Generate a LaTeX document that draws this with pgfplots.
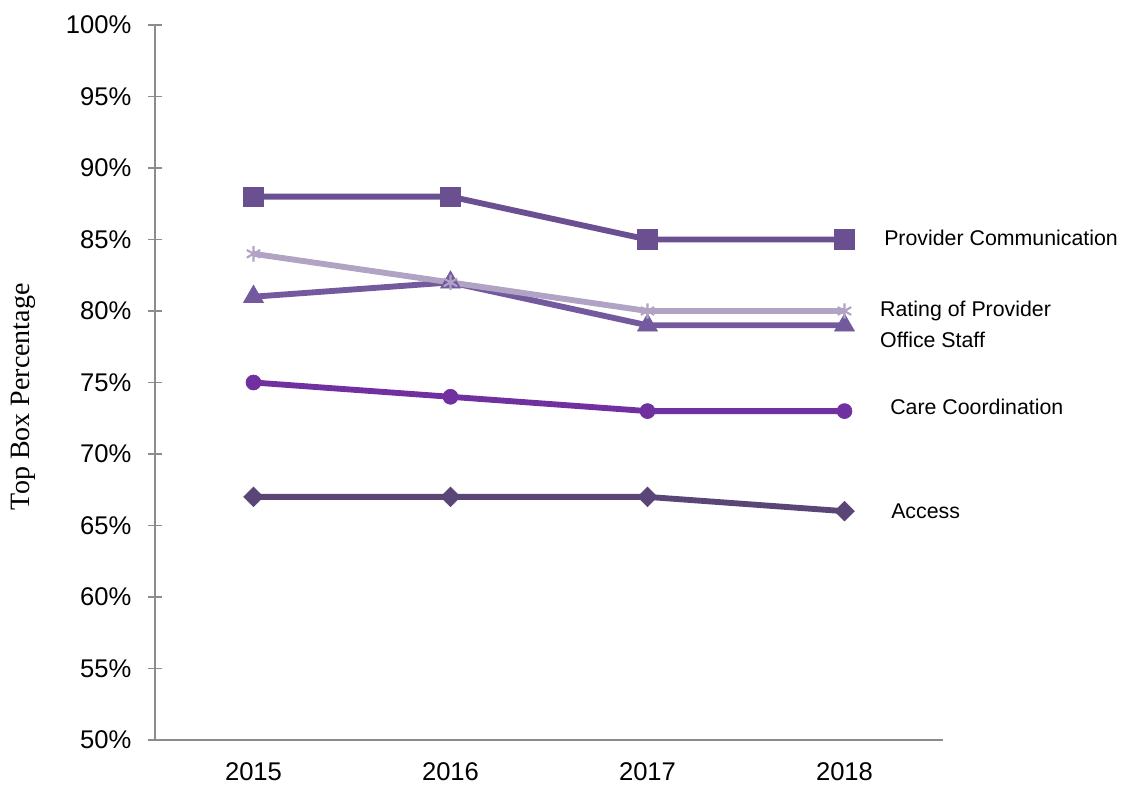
\documentclass[border=0pt]{standalone}
\usepackage{pgfplots}
\pgfplotsset{compat=1.18}
\usepackage{fontspec}
\setmainfont{Liberation Sans}
\newfontfamily\seriffont{Liberation Serif}
\definecolor{pcom}{HTML}{6A5090}
\definecolor{rate}{HTML}{B0A3C4}
\definecolor{staff}{HTML}{735A9E}
\definecolor{care}{HTML}{7030A0}
\definecolor{acc}{HTML}{5A4676}
\definecolor{axgray}{HTML}{8C8C8C}
\begin{document}
\begin{tikzpicture}
\path[use as bounding box] (-116.25pt,-34.5pt) rectangle (724.5pt,555pt);
\begin{axis}[
  at={(0pt,0pt)}, anchor=south west,
  scale only axis, width=591pt, height=536.25pt,
  xmin=-0.5, xmax=3.5, ymin=50, ymax=100,
  axis lines*=left,
  axis line style={axgray, line width=1.1pt, -},
  xtick={0,1,2,3}, xticklabels={2015,2016,2017,2018},
  xtick style={draw=none},
  ytick={50,55,...,100},
  yticklabels={50\%,55\%,60\%,65\%,70\%,75\%,80\%,85\%,90\%,95\%,100\%},
  ytick style={axgray, line width=1.1pt},
  tick align=center, major tick length=10.5pt,
  tick label style={font=\fontsize{19.2}{22}\selectfont, black},
  xticklabel style={yshift=-8.5pt},
  yticklabel style={xshift=-9pt},
  ylabel={Top Box Percentage},
  ylabel style={at={(axis description cs:-0.167,0.48)}, anchor=center, font=\seriffont\fontsize{21}{25}\selectfont},
  clip=false,
  every axis plot/.append style={line width=4.4pt},
]
\addplot[pcom, mark=square*, mark size=7.3pt, mark options={line width=0.5pt, fill=pcom}] coordinates {(0,88) (1,88) (2,85) (3,85)};
\addplot[staff, mark=triangle*, mark size=8.6pt, mark options={line width=0.5pt, fill=staff}] coordinates {(0,81) (1,82) (2,79) (3,79)};
\addplot[rate, mark=asterisk, mark size=5.8pt, mark options={line width=1.6pt}] coordinates {(0,84) (1,82) (2,80) (3,80)};
\addplot[care, mark=*, mark size=5.6pt, mark options={line width=0.5pt, fill=care}] coordinates {(0,75) (1,74) (2,73) (3,73)};
\addplot[acc, mark=square*, mark size=5.2pt, mark options={line width=0.5pt, fill=acc, rotate=45}] coordinates {(0,67) (1,67) (2,67) (3,66)};
\node[anchor=west, font=\fontsize{16}{19}\selectfont, inner sep=0pt] at (axis cs:3.2005,85.1) {Provider Communication};
\node[anchor=west, font=\fontsize{16}{19}\selectfont, inner sep=0pt] at (axis cs:3.180,80.0) {Rating of Provider};
\node[anchor=west, font=\fontsize{16}{19}\selectfont, inner sep=0pt] at (axis cs:3.180,78.0) {Office Staff};
\node[anchor=west, font=\fontsize{16}{19}\selectfont, inner sep=0pt] at (axis cs:3.231,73.3) {Care Coordination};
\node[anchor=west, font=\fontsize{16}{19}\selectfont, inner sep=0pt] at (axis cs:3.236,66.0) {Access};
\end{axis}
\end{tikzpicture}
\end{document}
